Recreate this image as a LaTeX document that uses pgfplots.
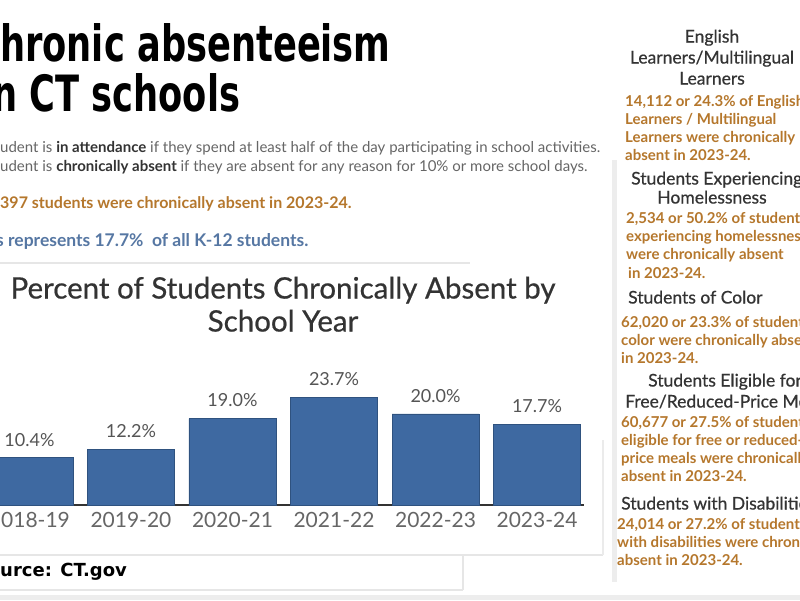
\documentclass[border=0pt]{standalone}
\usepackage{pgfplots}
\pgfplotsset{compat=1.18}
\usepackage{fontspec}
\usepackage{graphicx}
\setmainfont{Lato}
\newfontfamily\medfont{Lato}[FakeBold=0.6]
\newfontfamily\titlefont{DejaVu Sans}
\definecolor{barblue}{HTML}{3E69A1}
\definecolor{baredge}{HTML}{2F527F}
\definecolor{orng}{HTML}{B5772C}
\definecolor{txtblue}{HTML}{5677A3}
\definecolor{dgray}{HTML}{333333}
\definecolor{mgray}{HTML}{555555}
\definecolor{tgray}{HTML}{666666}
\definecolor{lgray}{HTML}{E6E6E6}
\newcommand{\fs}[1]{\fontsize{#1}{#1}\selectfont}
\begin{document}
\begin{tikzpicture}[x=1pt,y=1pt]
\useasboundingbox (0,0) rectangle (800,600);
\clip (0,0) rectangle (800,600);
\fill[white] (0,0) rectangle (800,600);
% frame lines
\draw[lgray, line width=2pt] (0,600-263) -- (470,600-263);
\draw[lgray, line width=2pt] (0,600-555) -- (603,600-555);
\draw[lgray, line width=2pt] (463,600-555) -- (463,600-590);
\draw[lgray, line width=2pt] (0,600-590) -- (463,600-590);
\fill[lgray!70] (0,0) rectangle (800,5);
\draw[lgray!80, line width=1.5pt] (603,600-440) -- (603,600-555);
\fill[lgray!70] (612,600-160) rectangle (617,600-582);
% main title
\node[anchor=base west, inner sep=0] at (0,600-62) {\scalebox{0.705}[1]{\titlefont\bfseries\fs{50}hronic absenteeism}};
\node[anchor=base west, inner sep=0] at (-8,600-112) {\scalebox{0.705}[1]{\titlefont\bfseries\fs{50}n CT schools}};
% definitions
\node[anchor=mid west, inner sep=0, text=tgray] at (0,600-150) {\fs{15}udent is \textbf{\color{dgray}in attendance} if they spend at least half of the day participating in school activities.};
\node[anchor=mid west, inner sep=0, text=tgray] at (0,600-169) {\fs{15}udent is \textbf{\color{dgray}chronically absent} if they are absent for any reason for 10\% or more school days.};
\node[anchor=mid west, inner sep=0, text=orng] at (0,600-206) {\fs{16}\bfseries 397 students were chronically absent in 2023-24.};
\node[anchor=mid west, inner sep=0, text=txtblue] at (-4,600-244) {\fs{17.5}\bfseries s represents 17.7\%\ \ of all K-12 students.};
% chart title
\node[anchor=mid, inner sep=0, text=dgray] at (283,600-296) {\medfont\fs{29.5}Percent of Students Chronically Absent by};
\node[anchor=mid, inner sep=0, text=dgray] at (283,600-329) {\medfont\fs{29.5}School Year};
% source
\node[anchor=base west, inner sep=0] at (0,600-576) {\titlefont\bfseries\fs{18}urce: CT.gov};
% right panel
\begin{scope}[every node/.style={inner sep=0}]
\node[anchor=mid, text=dgray] at (712,600-40) {\medfont\fs{17.5}English};
\node[anchor=mid, text=dgray] at (712,600-61) {\medfont\fs{17.5}Learners/Multilingual};
\node[anchor=mid, text=dgray] at (712,600-82) {\medfont\fs{17.5}Learners};
\node[anchor=mid west, text=orng] at (625,600-104) {\fs{15}\bfseries 14,112 or 24.3\% of English};
\node[anchor=mid west, text=orng] at (625,600-122) {\fs{15}\bfseries Learners / Multilingual};
\node[anchor=mid west, text=orng] at (625,600-140) {\fs{15}\bfseries Learners were chronically};
\node[anchor=mid west, text=orng] at (625,600-158) {\fs{15}\bfseries absent in 2023-24.};
\node[anchor=mid west, text=dgray] at (631,600-182) {\medfont\fs{17.5}Students Experiencing};
\node[anchor=mid, text=dgray] at (712,600-201) {\medfont\fs{17.5}Homelessness};
\node[anchor=mid west, text=orng] at (626,600-221) {\fs{15}\bfseries 2,534 or 50.2\% of students};
\node[anchor=mid west, text=orng] at (626,600-239) {\fs{15}\bfseries experiencing homelessness};
\node[anchor=mid west, text=orng] at (626,600-257) {\fs{15}\bfseries were chronically absent};
\node[anchor=mid west, text=orng] at (628,600-276) {\fs{15}\bfseries in 2023-24.};
\node[anchor=mid west, text=dgray] at (628,600-301) {\medfont\fs{17.5}Students of Color};
\node[anchor=mid west, text=orng] at (621,600-325) {\fs{15}\bfseries 62,020 or 23.3\% of students of};
\node[anchor=mid west, text=orng] at (621,600-343) {\fs{15}\bfseries color were chronically absent};
\node[anchor=mid west, text=orng] at (621,600-361) {\fs{15}\bfseries in 2023-24.};
\node[anchor=mid west, text=dgray] at (648,600-384) {\medfont\fs{17.5}Students Eligible for};
\node[anchor=mid west, text=dgray] at (625,600-405) {\medfont\fs{17.5}Free/Reduced-Price Meals};
\node[anchor=mid west, text=orng] at (621,600-425) {\fs{15}\bfseries 60,677 or 27.5\% of students};
\node[anchor=mid west, text=orng] at (621,600-443) {\fs{15}\bfseries eligible for free or reduced-};
\node[anchor=mid west, text=orng] at (621,600-461) {\fs{15}\bfseries price meals were chronically};
\node[anchor=mid west, text=orng] at (621,600-479) {\fs{15}\bfseries absent in 2023-24.};
\node[anchor=mid west, text=dgray] at (621,600-507) {\medfont\fs{17.5}Students with Disabilities};
\node[anchor=mid west, text=orng] at (617,600-527) {\fs{15}\bfseries 24,014 or 27.2\% of students};
\node[anchor=mid west, text=orng] at (617,600-545) {\fs{15}\bfseries with disabilities were chronically};
\node[anchor=mid west, text=orng] at (617,600-563) {\fs{15}\bfseries absent in 2023-24.};
\end{scope}
% bar chart
\begin{axis}[at={(-17,208)}, anchor=south west, scale only axis,
  width=601pt, height=114pt,
  xmin=-0.46, xmax=5.46, ymin=0, ymax=25,
  axis x line=bottom, axis y line=none,
  axis line style={-, draw=dgray, line width=1.5pt},
  xtick={0,1,2,3,4,5},
  xticklabels={2018-19,2019-20,2020-21,2021-22,2022-23,2023-24},
  major tick length=0pt,
  xticklabel style={font=\fs{21}, text=tgray, yshift=-4pt},
  ybar, bar width=0.857,
  /pgf/number format/assume math mode=true,
  nodes near coords={\pgfmathprintnumber[fixed,fixed zerofill,precision=1]{\pgfplotspointmeta}\%},
  every node near coord/.append style={font=\fs{18}, text=mgray, inner sep=0pt, yshift=11pt},
  clip=false]
\addplot[fill=barblue, draw=baredge, line width=0.8pt] coordinates {(0,10.4) (1,12.2) (2,19.0) (3,23.7) (4,20.0) (5,17.7)};
\end{axis}
\end{tikzpicture}
\end{document}
